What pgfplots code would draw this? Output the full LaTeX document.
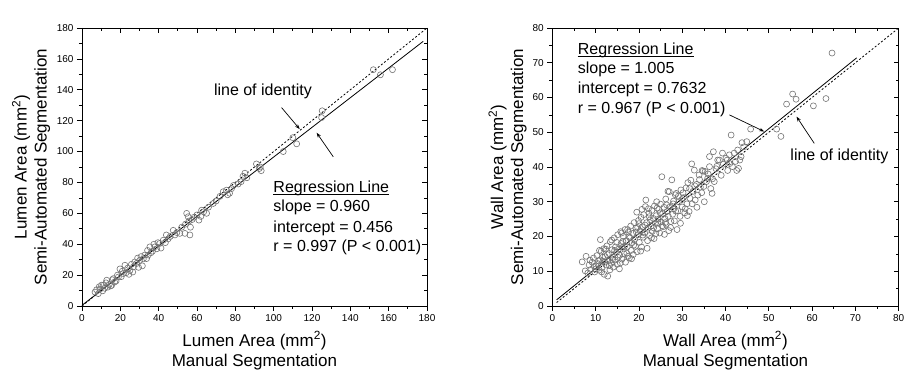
\documentclass[border=0pt]{standalone}
\usepackage{pgfplots}
\pgfplotsset{compat=1.18}
\usepackage{fontspec}
\setmainfont{Liberation Sans}
\usetikzlibrary{arrows.meta}
\definecolor{mk}{gray}{0.45}
\pgfplotsset{
  base/.style={
    scale only axis,
    axis line style={line width=0.9pt,black},
    major tick length=5pt, minor tick length=3pt,
    every tick/.style={line width=0.7pt,black},
    minor x tick num=1, minor y tick num=1,
    tick label style={font=\fontsize{10}{12}\selectfont},
    /pgf/number format/assume math mode=true,
    label style={font=\fontsize{17}{20}\selectfont, align=center},
  },
  mainax/.style={base, tick align=outside, xtick pos=left, ytick pos=left},
  overax/.style={base, tick align=inside, xtick pos=right, ytick pos=right,
    xticklabels={}, yticklabels={}},
}
\tikzset{ann/.style={font=\fontsize{16}{20}\selectfont, inner sep=0pt},
  arr/.style={-{Stealth[length=5pt,width=3.5pt]}, line width=0.7pt}}
\begin{document}
\begin{tikzpicture}
\useasboundingbox (0pt,0pt) rectangle (913pt,371pt);
% ---------------- Left plot ----------------
\begin{axis}[mainax, at={(82pt,65pt)}, anchor=south west, width=345pt, height=278pt,
  xmin=0, xmax=180, ymin=0, ymax=180,
  xtick={0,20,...,180}, ytick={0,20,...,180},
  xlabel={Lumen Area (mm\textsuperscript{2})\\Manual Segmentation},
  ylabel={Lumen Area (mm\textsuperscript{2})\\Semi-Automated Segmentation},
  xlabel style={at={(axis description cs:0.5,0)}, anchor=north, yshift=-22pt},
  ylabel style={at={(axis description cs:-0.082,0.5)}, anchor=south},
  clip=false]
\addplot[only marks, mark=o, mark size=3pt, mk, mark options={line width=0.6pt}] table {
x y
6.8 9
7.6 10.5
8.5 8
9.0 12.5
9.4 11
10.2 13.5
10.8 9.8
11 13.4
11.8 11.5
12.5 15
12.9 16.7
13.5 12.2
14.2 14
15 13
15.5 13.4
15.8 17
16.3 17.7
17 15.5
17.8 16.2
18.5 20
19 18.8
19.8 24
20.5 19
21 22.5
21.5 21
22.4 26.4
23 21.5
23.8 24.5
24.5 20.5
25 23
25.8 27
26.5 22
26.8 25.3
27.5 28.5
28.5 27.5
29 31
29.5 25
30.2 29.6
30.8 32
31.5 26
32 30.5
32.8 33
33.7 30.7
34.2 36
34.6 33
35.4 38.3
36 34.5
36.8 35.5
37.5 40
38 38.3
39 37
39.6 41
40.6 40.5
41.2 37.5
42.4 42.6
43.5 41
44 46
45 43.5
46 45
47.6 49
48.5 46
49.5 47.5
51 47
52 51
53.7 47
54 53
54.6 60
55.4 57.8
55.8 55
56.3 46
56.6 51
57.5 56
58.5 57.5
60 59
61 55.6
62 58
62.4 62
63.5 61
65 60
66 64
68.5 66.4
70 68
72 71
73.7 74
75.4 75
76 72
77 73
78 76
79 78
81.5 79
83 80.5
84 84
85 86
86 83
91 92
92.5 89
93 90
93.5 87.6
105 100
110 109
112 105
125 122
125.3 126.4
152 153
155.7 149.7
162 153
};
\addplot[black, line width=0.8pt] coordinates {(0,0.456) (178,171.34)};
\addplot[black, line width=0.8pt, dash pattern=on 2pt off 2pt] coordinates {(0,0) (180,180)};
\node[ann, anchor=base] at (axis cs:94.4,136) {line of identity};
\draw[arr] (axis cs:104.1,128.5) -- (axis cs:113.6,114.5);
\draw[arr] (axis cs:131.1,96.6) -- (axis cs:122.4,112.2);
\node[ann, anchor=base west] (rl1) at (axis cs:99.8,73.8) {Regression Line};
\draw[line width=0.7pt] ([yshift=-2pt]rl1.base west) -- ([yshift=-2pt]rl1.base east);
\node[ann, anchor=base west] at (axis cs:99.8,60.9) {slope = 0.960};
\node[ann, anchor=base west] at (axis cs:99.8,47.9) {intercept = 0.456};
\node[ann, anchor=base west] at (axis cs:99.8,35.0) {r = 0.997 (P < 0.001)};
\end{axis}
\begin{axis}[overax, at={(82pt,65pt)}, anchor=south west, width=345pt, height=278pt,
  xmin=0, xmax=180, ymin=0, ymax=180,
  xtick={0,20,...,180}, ytick={0,20,...,180}]
\end{axis}
% ---------------- Right plot ----------------
\begin{axis}[mainax, at={(552.3pt,65pt)}, anchor=south west, width=346.4pt, height=278pt,
  xmin=0, xmax=80, ymin=0, ymax=80,
  xtick={0,10,...,80}, ytick={0,10,...,80},
  xlabel={Wall Area (mm\textsuperscript{2})\\Manual Segmentation},
  ylabel={Wall Area (mm\textsuperscript{2})\\Semi-Automated Segmentation},
  xlabel style={at={(axis description cs:0.5,0)}, anchor=north, yshift=-22pt},
  ylabel style={at={(axis description cs:-0.064,0.5)}, anchor=south},
  clip=false]
\addplot[only marks, mark=o, mark size=3pt, mk, mark options={line width=0.6pt}] table {
x y
6.9 12.7
7.6 10.1
7.8 14.3
8.2 9.5
8.5 11.8
8.9 10.5
9.2 12.6
9.5 13.8
9.8 9.8
10.1 11.5
10.3 14.5
10.5 12.2
10.8 10.3
11.0 13.3
11.1 19.1
11.3 15.8
11.5 11.0
11.7 12.9
11.9 16.5
12.0 9.1
12.2 14.2
12.4 11.8
12.6 17.3
12.8 8.6
12.9 13.0
13.1 15.1
13.3 10.4
13.4 18.5
13.6 12.3
13.8 16.2
14.0 14.0
14.1 11.2
14.3 19.6
14.5 13.2
14.6 17.0
14.8 15.4
15.0 12.0
15.1 20.5
15.3 16.4
15.5 10.7
15.6 14.6
15.8 21.4
15.9 18.0
16.1 13.5
16.2 16.9
16.4 20.0
16.6 15.0
16.8 22.0
16.9 12.6
17.1 18.8
17.3 17.0
17.5 14.3
17.6 21.3
17.8 13.8
17.9 19.6
18.1 23.0
18.2 16.0
18.4 18.2
18.6 20.9
18.7 14.8
18.9 24.0
19.0 19.2
19.2 17.2
19.3 22.4
19.5 27.0
19.6 15.6
19.8 20.5
20.0 23.7
20.1 18.3
20.3 21.6
20.5 25.5
20.6 17.0
20.8 22.8
21.0 19.8
21.1 26.3
21.3 21.0
21.5 28.6
21.6 30.5
21.8 24.0
22.0 18.8
22.1 22.4
22.3 26.7
22.5 20.3
22.6 24.8
22.8 23.0
23.0 27.5
23.1 21.5
23.3 25.2
23.5 19.4
23.6 28.8
23.8 23.8
24.0 26.0
24.1 30.0
24.3 22.2
24.5 25.0
24.6 27.8
24.8 21.0
25.0 29.3
25.1 24.2
25.3 37.2
25.5 26.6
25.6 22.8
25.8 28.4
26.0 25.2
26.2 30.8
26.3 23.5
26.5 27.2
26.7 33.0
26.8 25.8
27.0 32.9
27.2 28.6
27.3 22.6
27.6 36.3
27.8 26.4
28.0 30.2
28.2 24.5
28.4 32.0
28.6 32.4
28.8 22.0
29.0 27.4
29.2 30.0
29.5 25.8
29.7 33.4
30.0 28.5
30.3 31.2
30.6 26.8
30.9 34.0
31.1 29.4
31.3 35.5
31.6 27.2
31.8 31.0
32.0 36.2
32.2 40.9
32.5 33.0
32.8 39.1
33.0 30.5
33.3 35.0
33.6 31.9
33.9 37.7
34.2 34.2
34.5 32.6
34.8 38.8
35.1 30.0
35.3 38.7
35.6 35.8
35.9 36.8
36.3 40.1
36.3 43.0
36.6 33.8
36.9 32.4
37.2 44.4
37.4 35.8
37.8 39.5
38.2 42.0
38.6 42.0
39.0 37.6
39.5 40.8
40.1 42.5
40.5 39.0
40.9 43.5
41.3 49.2
41.6 40.1
42.0 44.0
42.3 41.6
42.8 44.9
43.0 39.6
43.3 42.0
43.6 43.0
44.2 45.8
44.9 47.3
45.8 50.9
51.8 50.9
52.8 48.8
54.1 58.1
55.5 61.0
56.3 59.5
60.3 57.6
63.2 59.7
64.6 72.8
10.0 10.6
10.7 13.0
11.4 9.8
12.1 12.6
12.7 14.8
13.2 11.6
13.9 13.3
14.4 16.0
15.2 14.0
15.7 12.4
16.3 18.6
16.7 17.2
17.2 15.2
17.7 20.0
18.3 13.6
18.8 17.5
19.4 21.3
19.9 24.6
20.4 15.8
20.9 20.4
21.4 23.3
21.9 16.6
22.4 25.7
22.9 19.6
23.4 22.5
23.9 20.8
24.4 24.0
24.9 26.8
25.4 23.1
25.9 20.6
26.4 29.1
26.9 21.7
27.4 24.3
27.9 29.4
28.5 27.3
29.1 31.6
29.6 23.8
30.2 32.6
30.7 28.0
31.2 26.0
31.7 33.8
32.3 29.4
32.9 34.6
33.4 28.4
34.0 36.4
34.6 39.0
35.0 34.4
36.0 38.0
37.0 36.6
38.0 40.2
39.3 44.0
40.4 42.0
41.0 41.0
42.6 39.0
43.8 47.0
19.7 22.6
20.7 27.8
22.2 28.0
24.2 28.2
26.1 24.0
28.1 28.0
29.9 30.6
17.4 22.0
16.0 21.0
14.9 18.3
13.7 19.0
12.3 16.4
11.6 14.0
10.9 16.0
9.7 11.4
8.7 13.2
};
\addplot[black, line width=0.8pt] coordinates {(1,1.77) (70.3,71.42)};
\addplot[black, line width=0.8pt, dash pattern=on 2pt off 2pt] coordinates {(1,1) (80,80)};
\node[ann, anchor=base] at (axis cs:66.3,42.0) {line of identity};
\draw[arr] (axis cs:40.9,55.0) -- (axis cs:48.96,50.2);
\draw[arr] (axis cs:60.5,46.8) -- (axis cs:56.4,54.5);
\node[ann, anchor=base west] (rl2) at (axis cs:5.87,72.4) {Regression Line};
\draw[line width=0.7pt] ([yshift=-2pt]rl2.base west) -- ([yshift=-2pt]rl2.base east);
\node[ann, anchor=base west] at (axis cs:5.87,66.8) {slope = 1.005};
\node[ann, anchor=base west] at (axis cs:5.87,61.2) {intercept = 0.7632};
\node[ann, anchor=base west] at (axis cs:5.87,55.4) {r = 0.967 (P < 0.001)};
\end{axis}
\begin{axis}[overax, at={(552.3pt,65pt)}, anchor=south west, width=346.4pt, height=278pt,
  xmin=0, xmax=80, ymin=0, ymax=80,
  xtick={0,10,...,80}, ytick={0,10,...,80}]
\end{axis}
\end{tikzpicture}
\end{document}
